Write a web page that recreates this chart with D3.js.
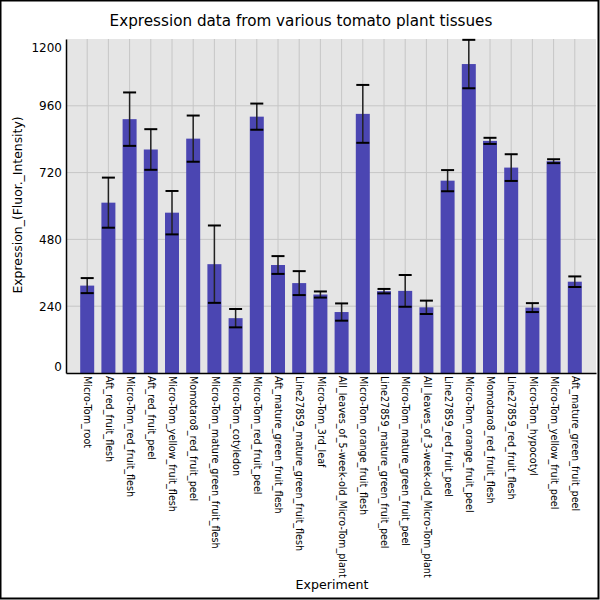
<!DOCTYPE html>
<html>
<head>
<meta charset="utf-8">
<script src="https://cdn.jsdelivr.net/npm/d3@7"></script>
<style>
  body { margin: 0; background: #fff; }
  text { font-family: "DejaVu Sans", sans-serif; fill: #000; }
</style>
</head>
<body>
<div id="chart-container"></div>
<script>
// tissues, in plotted order
const tissues = [
  "Micro-Tom_root", "Aft_red_fruit_flesh", "Micro-Tom_red_fruit_flesh", "Aft_red_fruit_peel",
  "Micro-Tom_yellow_fruit_flesh", "Momotaro8_red_fruit_peel", "Micro-Tom_mature_green_fruit_flesh",
  "Micro-Tom_cotyledon", "Micro-Tom_red_fruit_peel", "Aft_mature_green_fruit_flesh",
  "Line27859_mature_green_fruit_flesh", "Micro-Tom_3rd_leaf", "All_leaves_of_5-week-old_Micro-Tom_plant",
  "Micro-Tom_orange_fruit_flesh", "Line27859_mature_green_fruit_peel", "Micro-Tom_mature_green_fruit_peel",
  "All_leaves_of_3-week-old_Micro-Tom_plant", "Line27859_red_fruit_peel", "Micro-Tom_orange_fruit_peel",
  "Momotaro8_red_fruit_flesh", "Line27859_red_fruit_flesh", "Micro-Tom_hypocotyl",
  "Micro-Tom_yellow_fruit_peel", "Aft_mature_green_fruit_peel"
];

// mean expression per tissue
const expression = [
  314, 612, 912, 803, 576, 842, 391, 197, 921, 388, 323, 282,
  219, 931, 294, 295, 236, 691, 1110, 834, 738, 235, 761, 328
];

// error (half-length of the error bar)
const errors = [
  27, 90, 96, 73, 78, 83, 139, 33, 47, 32, 43, 11,
  31, 104, 8, 57, 24, 38, 87, 11, 48, 16, 7, 19
];

const yTicks = [0, 240, 480, 720, 960, 1200];

const W = 600, H = 600;
const plotLeft = 66, plotRight = 596, plotTop = 39, plotBottom = 373;

const svg = d3.select("#chart-container")
  .append("svg")
  .attr("width", W)
  .attr("height", H);

// plot background
svg.append("rect")
  .attr("x", plotLeft)
  .attr("y", plotTop)
  .attr("width", plotRight - plotLeft)
  .attr("height", plotBottom - plotTop)
  .attr("fill", "#e5e5e5");

// x positions: one slot of padding each side
const xScale = d3.scalePoint()
  .domain(tissues)
  .range([plotLeft, plotRight])
  .padding(1);

const yScale = d3.scaleLinear()
  .domain([0, 1200])
  .range([plotBottom, plotTop]);

const barW = 14;

// grid lines (none at 0 / 1200, those sit on the plot edges)
svg.append("g")
  .selectAll("line")
  .data(yTicks.filter(d => d > 0 && d < 1200))
  .enter()
  .append("line")
  .attr("x1", plotLeft)
  .attr("x2", plotRight)
  .attr("y1", d => yScale(d))
  .attr("y2", d => yScale(d))
  .attr("stroke", "#c6c6c6")
  .attr("stroke-width", 1);

svg.append("g")
  .selectAll("line")
  .data(tissues)
  .enter()
  .append("line")
  .attr("x1", d => xScale(d))
  .attr("x2", d => xScale(d))
  .attr("y1", plotTop)
  .attr("y2", plotBottom)
  .attr("stroke", "#c6c6c6")
  .attr("stroke-width", 1);

// bars
svg.append("g")
  .selectAll("rect")
  .data(tissues)
  .enter()
  .append("rect")
  .attr("x", d => xScale(d) - barW / 2)
  .attr("y", (d, i) => yScale(expression[i]))
  .attr("width", barW)
  .attr("height", (d, i) => yScale(0) - yScale(expression[i]))
  .attr("fill", "#4b46b2");

// error bars
const err = svg.append("g")
  .selectAll("g")
  .data(tissues)
  .enter()
  .append("g");

err.append("line")
  .attr("x1", d => xScale(d))
  .attr("x2", d => xScale(d))
  .attr("y1", (d, i) => yScale(expression[i] + errors[i]))
  .attr("y2", (d, i) => yScale(expression[i] - errors[i]))
  .attr("stroke", "#222")
  .attr("stroke-width", 1.5);

[1, -1].forEach(sign => {
  err.append("line")
    .attr("x1", d => xScale(d) - 6.5)
    .attr("x2", d => xScale(d) + 6.5)
    .attr("y1", (d, i) => yScale(expression[i] + sign * errors[i]))
    .attr("y2", (d, i) => yScale(expression[i] + sign * errors[i]))
    .attr("stroke", "#000")
    .attr("stroke-width", 2);
});

// axes
const yAxis = d3.axisLeft(yScale)
  .tickValues(yTicks)
  .tickFormat(d3.format("d"))
  .tickSize(0)
  .tickPadding(4);

const yG = svg.append("g")
  .attr("transform", `translate(${plotLeft},0)`)
  .call(yAxis);
yG.select(".domain").attr("stroke", "#000").attr("stroke-width", 1.5);
yG.selectAll("text")
  .attr("font-family", "DejaVu Sans")
  .attr("font-size", "12px")
  .attr("fill", "#000");
// end labels are pulled inside the plot edges
yG.selectAll(".tick text")
  .attr("y", d => d === 0 ? -6 : (d === 1200 ? 9 : 0));

const xAxis = d3.axisBottom(xScale).tickSize(0).tickPadding(0);
const xG = svg.append("g")
  .attr("transform", `translate(0,${plotBottom})`)
  .call(xAxis);
xG.select(".domain").attr("stroke", "#000").attr("stroke-width", 1.5);
xG.selectAll("text")
  .attr("font-family", "DejaVu Sans")
  .attr("font-size", "9.6px")
  .attr("fill", "#000")
  .attr("text-anchor", "start")
  .attr("dy", "0.35em")
  .attr("transform", "translate(0,3) rotate(90)")
  .attr("y", 0)
  .attr("x", 0);

// title and axis labels
svg.append("text")
  .attr("x", 301)
  .attr("y", 26)
  .attr("text-anchor", "middle")
  .attr("font-size", "15.2px")
  .text("Expression data from various tomato plant tissues");

svg.append("text")
  .attr("transform", "rotate(-90)")
  .attr("x", -205)
  .attr("y", 22)
  .attr("text-anchor", "middle")
  .attr("font-size", "12.4px")
  .text("Expression_(Fluor._Intensity)");

svg.append("text")
  .attr("x", 332)
  .attr("y", 589)
  .attr("text-anchor", "middle")
  .attr("font-size", "12.6px")
  .text("Experiment");

// outer frame
svg.append("rect")
  .attr("x", 0.5)
  .attr("y", 0.5)
  .attr("width", W - 2)
  .attr("height", H - 2)
  .attr("fill", "none")
  .attr("stroke", "#000")
  .attr("stroke-width", 2);
</script>
</body>
</html>
